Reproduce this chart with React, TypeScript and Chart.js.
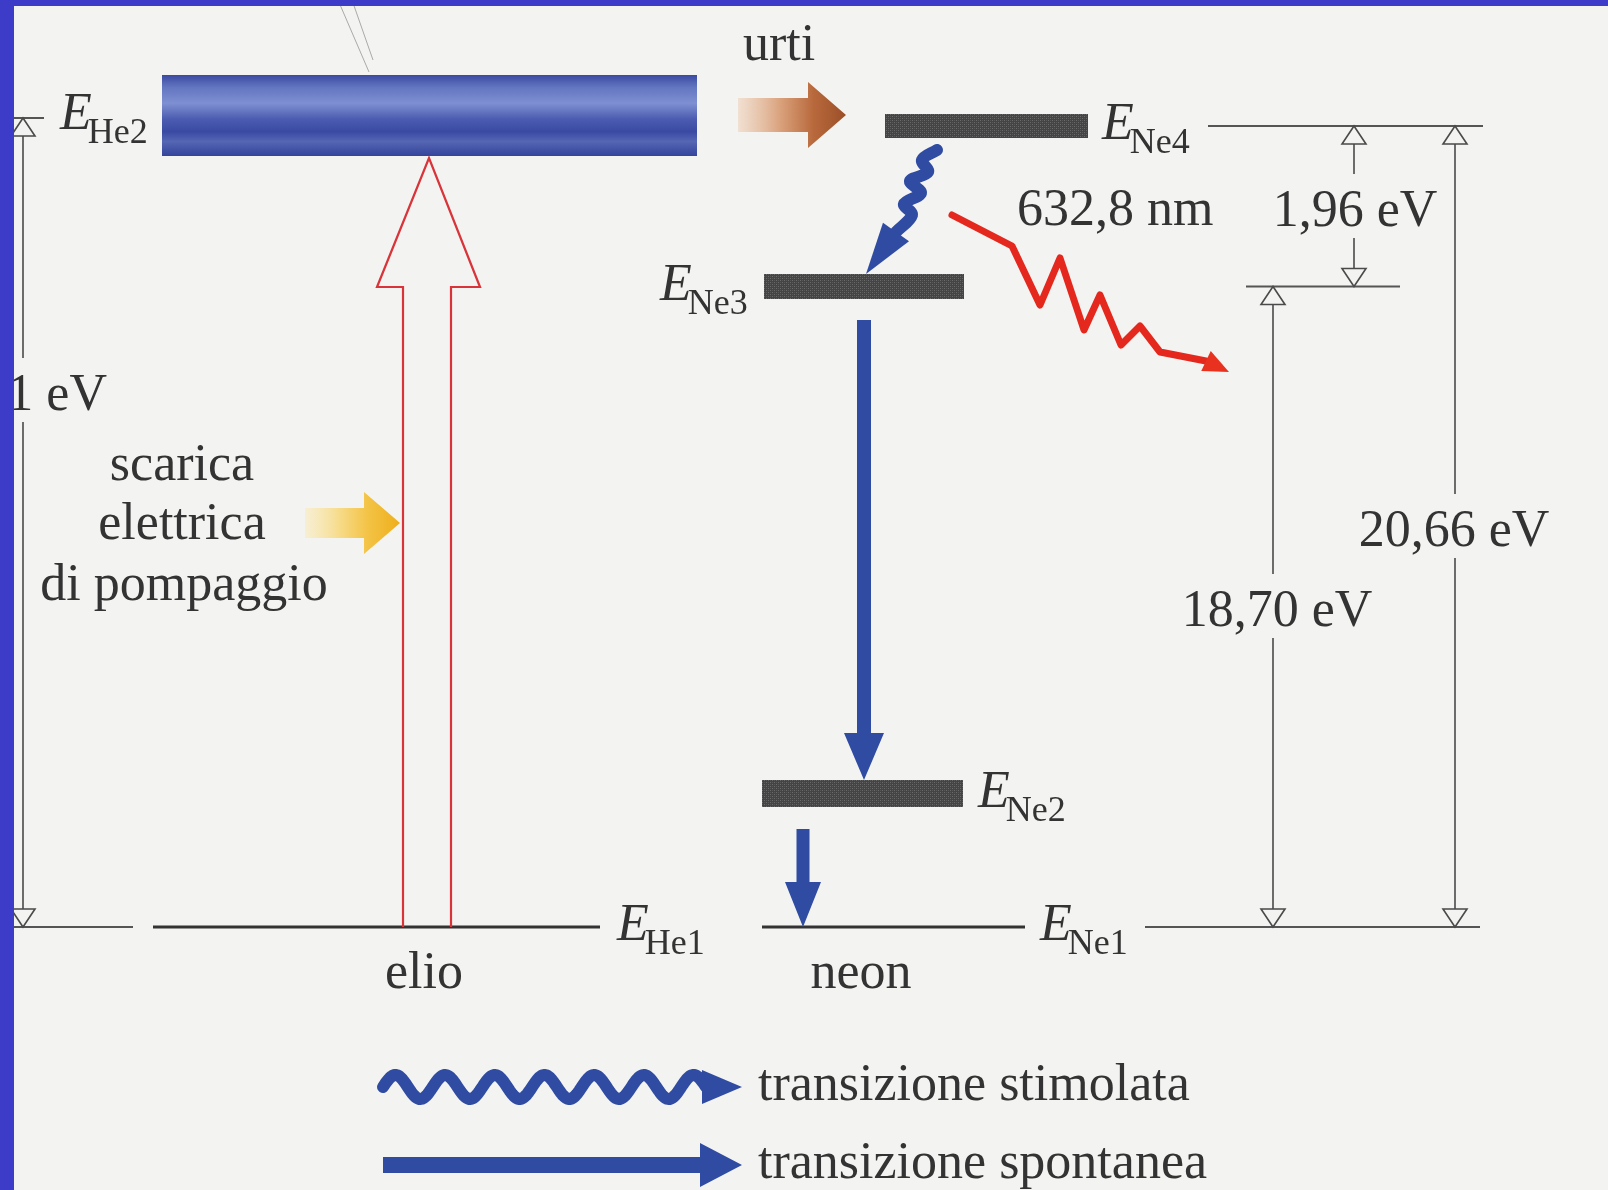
import React, { useEffect, useRef } from 'react';
import { Chart, registerables } from 'chart.js';

Chart.register(...registerables);

// Diagram coordinates: x = horizontal position, y = schematic height above ground level (E_He1 = E_Ne1 = 0)
const levelNames = ['He2', 'Ne4', 'Ne3', 'Ne2', 'He1', 'Ne1'];
const levelHeights = [811.5, 801, 640.5, 133.5, 0, 0];
const levelStarts = [162, 885, 764, 762, 153, 762];
const levelEnds = [697, 1088, 964, 963, 600, 1025];
const levelLabelX = [60, 1102, 660, 978, 617, 1040];

// thin reference lines used by the energy-gap dimensions
const refHeights = [801, 640.5, 0, 809, 0];
const refStarts = [1208, 1246, 1145, 14, 14];
const refEnds = [1483, 1400, 1480, 44, 133];

// energy gaps
const gapLabels = ['1,96 eV', '18,70 eV', '20,66 eV', '20,61 eV'];
const gapX = [1354, 1273, 1455, 23];
const gapTop = [801, 640.5, 801, 809];
const gapBottom = [640.5, 0, 0, 0];
const gapLabelX = [1355, 1277, 1454, 107];
const gapLabelY = [701, 301, 381, 517];
const gapLabelAlign = ['center', 'center', 'center', 'right'];

// captions
const captions = ['urti', '632,8 nm', 'scarica', 'elettrica', 'di pompaggio', 'elio', 'neon'];
const captionX = [779, 1017, 182, 182, 184, 424, 861];
const captionY = [867, 702, 447, 388, 327, -61, -61];
const captionAlign = ['center', 'left', 'center', 'center', 'center', 'center', 'center'];

// spontaneous transitions (Ne3 -> Ne2, Ne2 -> Ne1)
const spontX = [864, 803];
const spontFrom = [607, 98];
const spontTo = [147, 0];

// pumping arrow (He1 -> He2)
const pumpX = 427;
const pumpFrom = 0;
const pumpHeadBase = 640;
const pumpTip = 769;

// discharge and collision arrows
const dischargeY = 404;
const dischargeFrom = 305;
const dischargeTo = 400;
const urtiY = 812;
const urtiFrom = 738;
const urtiTo = 846;

// stimulated transition squiggle Ne4 -> Ne3
const stimX = [937, 922, 928, 910, 921, 904, 912, 896];
const stimY = [777, 767, 755, 746, 734, 723, 712, 695];
const stimTip = [866, 653];

// emitted photon 632,8 nm
const photonX = [952, 1012, 1040, 1060, 1084, 1100, 1121, 1140, 1160, 1206];
const photonY = [712, 681, 622, 669, 597, 632, 582, 601, 575, 566];
const photonTip = [1229, 555];

// legend
const legendLabels = ['transizione stimolata', 'transizione spontanea'];
const legendArrowY = [-160, -238];
const legendTextY = [-173, -251];
const legendStart = 383;
const legendEnd = 742;
const legendTextX = 758;

// scan scratches at top
const scratchX0 = [338, 352];
const scratchY0 = [927, 927];
const scratchX1 = [369, 373];
const scratchY1 = [855, 867];

const levelThickness = [81, 24, 25, 27, 3, 3];
const BLUE = '#2f4ca2';
const TEXT = '#333333';
const FONT = '"Liberation Serif", "Times New Roman", serif';
const BG = '#f3f3f1';

function makeGrayPattern(): CanvasPattern | string {
  const c = document.createElement('canvas');
  c.width = 4;
  c.height = 4;
  const g = c.getContext('2d');
  if (!g) return '#4a4a4a';
  g.fillStyle = '#444444';
  g.fillRect(0, 0, 4, 4);
  g.fillStyle = '#6b6b6b';
  g.fillRect(0, 0, 1, 1);
  g.fillRect(2, 2, 1, 1);
  g.fillStyle = '#585858';
  g.fillRect(2, 0, 1, 1);
  g.fillRect(0, 2, 1, 1);
  const p = g.createPattern(c, 'repeat');
  return p || '#4a4a4a';
}

function blockArrow(ctx: CanvasRenderingContext2D, x0: number, y0: number, x1: number, y1: number, sw: number, hw: number, hl: number) {
  const dx = x1 - x0, dy = y1 - y0;
  const len = Math.hypot(dx, dy);
  const ux = dx / len, uy = dy / len;
  const nx = -uy, ny = ux;
  const bx = x1 - ux * hl, by = y1 - uy * hl;
  ctx.beginPath();
  ctx.moveTo(x0 + nx * sw / 2, y0 + ny * sw / 2);
  ctx.lineTo(bx + nx * sw / 2, by + ny * sw / 2);
  ctx.lineTo(bx + nx * hw / 2, by + ny * hw / 2);
  ctx.lineTo(x1, y1);
  ctx.lineTo(bx - nx * hw / 2, by - ny * hw / 2);
  ctx.lineTo(bx - nx * sw / 2, by - ny * sw / 2);
  ctx.lineTo(x0 - nx * sw / 2, y0 - ny * sw / 2);
  ctx.closePath();
}

function headOnly(ctx: CanvasRenderingContext2D, bx: number, by: number, x1: number, y1: number, hw: number) {
  const dx = x1 - bx, dy = y1 - by;
  const len = Math.hypot(dx, dy);
  const nx = -dy / len, ny = dx / len;
  ctx.beginPath();
  ctx.moveTo(bx + nx * hw / 2, by + ny * hw / 2);
  ctx.lineTo(x1, y1);
  ctx.lineTo(bx - nx * hw / 2, by - ny * hw / 2);
  ctx.closePath();
}

const diagramPlugin = {
  id: 'diagram',
  beforeDraw(chart: any) {
    const { ctx } = chart;
    ctx.save();
    ctx.fillStyle = BG;
    ctx.fillRect(0, 0, chart.width, chart.height);
    ctx.restore();
  },
  afterDatasetsDraw(chart: any) {
    const { ctx } = chart;
    const X = (v: number) => chart.scales.x.getPixelForValue(v);
    const Y = (v: number) => chart.scales.y.getPixelForValue(v);
    ctx.save();

    // scratches
    ctx.strokeStyle = 'rgba(120,120,120,0.6)';
    ctx.lineWidth = 1;
    for (let i = 0; i < scratchX0.length; i++) {
      ctx.beginPath();
      ctx.moveTo(X(scratchX0[i]), Y(scratchY0[i]));
      ctx.lineTo(X(scratchX1[i]), Y(scratchY1[i]));
      ctx.stroke();
    }

    // reference lines
    ctx.strokeStyle = '#555555';
    ctx.lineWidth = 2;
    for (let i = 0; i < refHeights.length; i++) {
      ctx.beginPath();
      ctx.moveTo(X(refStarts[i]), Y(refHeights[i]));
      ctx.lineTo(X(refEnds[i]), Y(refHeights[i]));
      ctx.stroke();
    }

    // dimension lines with open triangles
    ctx.font = `52px ${FONT}`;
    for (let i = 0; i < gapLabels.length; i++) {
      const x = X(gapX[i]);
      const top = Y(gapTop[i]);
      const bot = Y(gapBottom[i]);
      const lb = Y(gapLabelY[i]);
      const gapA = lb - 52, gapB = lb + 12;
      const th = 18, tw = 24;
      ctx.strokeStyle = '#4a4a4a';
      ctx.lineWidth = 1.6;
      ctx.beginPath();
      ctx.moveTo(x, top + th);
      ctx.lineTo(x, gapA);
      ctx.moveTo(x, gapB);
      ctx.lineTo(x, bot - th);
      ctx.stroke();
      ctx.fillStyle = BG;
      ctx.beginPath();
      ctx.moveTo(x, top);
      ctx.lineTo(x - tw / 2, top + th);
      ctx.lineTo(x + tw / 2, top + th);
      ctx.closePath();
      ctx.fill();
      ctx.stroke();
      ctx.beginPath();
      ctx.moveTo(x, bot);
      ctx.lineTo(x - tw / 2, bot - th);
      ctx.lineTo(x + tw / 2, bot - th);
      ctx.closePath();
      ctx.fill();
      ctx.stroke();
      ctx.fillStyle = TEXT;
      ctx.textAlign = gapLabelAlign[i] as CanvasTextAlign;
      ctx.textBaseline = 'alphabetic';
      ctx.fillText(gapLabels[i], X(gapLabelX[i]), lb);
    }

    // pumping hollow arrow
    {
      const cx = X(pumpX);
      const sb = Y(pumpFrom), hb = Y(pumpHeadBase), tip = Y(pumpTip);
      ctx.strokeStyle = '#d8343a';
      ctx.lineWidth = 2.2;
      ctx.lineJoin = 'miter';
      ctx.beginPath();
      ctx.moveTo(cx - 24, sb);
      ctx.lineTo(cx - 24, hb);
      ctx.lineTo(cx - 50, hb);
      ctx.lineTo(cx + 2, tip);
      ctx.lineTo(cx + 53, hb);
      ctx.lineTo(cx + 24, hb);
      ctx.lineTo(cx + 24, sb);
      ctx.stroke();
    }

    // discharge arrow (yellow)
    {
      const y = Y(dischargeY);
      const x0 = X(dischargeFrom), x1 = X(dischargeTo);
      const g = ctx.createLinearGradient(x0, 0, x1, 0);
      g.addColorStop(0, 'rgba(250,236,190,0.6)');
      g.addColorStop(0.35, '#f7dc8c');
      g.addColorStop(0.65, '#f3c447');
      g.addColorStop(1, '#efae1a');
      ctx.fillStyle = g;
      blockArrow(ctx, x0, y, x1, y, 30, 62, 36);
      ctx.fill();
    }

    // collision arrow (brown)
    {
      const y = Y(urtiY);
      const x0 = X(urtiFrom), x1 = X(urtiTo);
      const g = ctx.createLinearGradient(x0, 0, x1, 0);
      g.addColorStop(0, 'rgba(240,215,195,0.7)');
      g.addColorStop(0.4, '#d9a07a');
      g.addColorStop(0.7, '#b8693c');
      g.addColorStop(1, '#9c4f28');
      ctx.fillStyle = g;
      blockArrow(ctx, x0, y, x1, y, 34, 66, 38);
      ctx.fill();
    }

    // spontaneous transitions
    ctx.fillStyle = BLUE;
    const spW = [14, 13], spH = [40, 36], spL = [47, 45];
    for (let i = 0; i < spontX.length; i++) {
      blockArrow(ctx, X(spontX[i]), Y(spontFrom[i]), X(spontX[i]), Y(spontTo[i]), spW[i], spH[i], spL[i]);
      ctx.fill();
    }

    // stimulated squiggle head
    {
      const n = stimX.length - 1;
      ctx.fillStyle = BLUE;
      headOnly(ctx, X(stimX[n]), Y(stimY[n]), X(stimTip[0]), Y(stimTip[1]), 32);
      ctx.fill();
    }

    // photon head
    {
      const n = photonX.length - 1;
      ctx.fillStyle = '#e8321f';
      headOnly(ctx, X(photonX[n]), Y(photonY[n]), X(photonTip[0]), Y(photonTip[1]), 22);
      ctx.fill();
    }

    // level labels
    ctx.textAlign = 'left';
    for (let i = 0; i < levelNames.length; i++) {
      const x = X(levelLabelX[i]);
      const by = Y(levelHeights[i] - 13);
      ctx.fillStyle = TEXT;
      ctx.font = `italic 52px ${FONT}`;
      ctx.fillText('E', x, by);
      const w = ctx.measureText('E').width;
      ctx.font = `36px ${FONT}`;
      ctx.fillText(levelNames[i], x + w - 4, by + 14);
    }

    // captions
    ctx.font = `52px ${FONT}`;
    ctx.fillStyle = TEXT;
    for (let i = 0; i < captions.length; i++) {
      ctx.textAlign = captionAlign[i] as CanvasTextAlign;
      ctx.fillText(captions[i], X(captionX[i]), Y(captionY[i]));
    }

    // legend
    {
      const xs = X(legendStart), xe = X(legendEnd);
      const yc = Y(legendArrowY[0]);
      const headL = 40;
      const wx1 = xe - headL + 4;
      ctx.strokeStyle = BLUE;
      ctx.lineWidth = 12;
      ctx.lineCap = 'round';
      ctx.lineJoin = 'round';
      ctx.beginPath();
      const steps = 240;
      for (let k = 0; k <= steps; k++) {
        const t = k / steps;
        const x = xs + t * (wx1 - xs);
        const y = yc - 12 * Math.sin(2 * Math.PI * 6.5 * t);
        if (k === 0) ctx.moveTo(x, y); else ctx.lineTo(x, y);
      }
      ctx.stroke();
      ctx.fillStyle = BLUE;
      headOnly(ctx, xe - headL, yc, xe, yc, 34);
      ctx.fill();
      const ys = Y(legendArrowY[1]);
      blockArrow(ctx, xs, ys, xe, ys, 16, 44, 42);
      ctx.fill();
      ctx.fillStyle = TEXT;
      ctx.textAlign = 'left';
      ctx.font = `52px ${FONT}`;
      for (let i = 0; i < legendLabels.length; i++) {
        ctx.fillText(legendLabels[i], X(legendTextX), Y(legendTextY[i]));
      }
    }
    ctx.restore();
  },
  afterDraw(chart: any) {
    const { ctx } = chart;
    ctx.save();
    ctx.fillStyle = '#3c3cc9';
    ctx.fillRect(0, 0, 14, chart.height);
    ctx.fillRect(0, 0, chart.width, 6);
    ctx.restore();
  },
};

export default function App() {
  const ref = useRef<HTMLCanvasElement | null>(null);
  useEffect(() => {
    if (!ref.current) return;
    const gray = makeGrayPattern();
    const datasets: any[] = [];
    for (let i = 0; i < levelNames.length; i++) {
      const h = levelHeights[i];
      const th = levelThickness[i];
      let color: any = th > 5 ? gray : '#333333';
      if (i === 0) {
        color = (c: any) => {
          const chart = c.chart;
          const sc = chart.scales && chart.scales.y;
          const area = chart.chartArea;
          if (!sc || !area) return '#4556aa';
          const py = sc.getPixelForValue(h);
          if (!Number.isFinite(py)) return '#4556aa';
          const g = chart.ctx.createLinearGradient(0, py - th / 2, 0, py + th / 2);
          g.addColorStop(0, '#3a4aa2');
          g.addColorStop(0.15, '#6275c0');
          g.addColorStop(0.35, '#7f8fd2');
          g.addColorStop(0.55, '#4a5bb0');
          g.addColorStop(0.7, '#3a4aa3');
          g.addColorStop(0.82, '#5566b4');
          g.addColorStop(1, '#33449b');
          return g;
        };
      }
      datasets.push({
        label: 'E' + levelNames[i],
        data: [
          { x: levelStarts[i], y: h },
          { x: levelEnds[i], y: h },
        ],
        showLine: true,
        borderColor: color,
        borderWidth: th,
        borderCapStyle: 'butt',
        pointRadius: 0,
        pointHoverRadius: 0,
      });
    }
    datasets.push({
      label: 'stimolata',
      data: stimX.map((x, i) => ({ x, y: stimY[i] })),
      showLine: true,
      borderColor: BLUE,
      borderWidth: 12,
      tension: 0.35,
      borderCapStyle: 'round',
      borderJoinStyle: 'round',
      pointRadius: 0,
    });
    datasets.push({
      label: 'fotone',
      data: photonX.map((x, i) => ({ x, y: photonY[i] })),
      showLine: true,
      borderColor: '#e5281d',
      borderWidth: 7,
      borderJoinStyle: 'round',
      borderCapStyle: 'round',
      pointRadius: 0,
    });
    datasets.push({
      label: 'fotone-core',
      data: photonX.map((x, i) => ({ x, y: photonY[i] })),
      showLine: true,
      borderColor: '#f8a83a',
      borderWidth: 2.5,
      borderJoinStyle: 'round',
      borderCapStyle: 'round',
      pointRadius: 0,
    });

    const chart = new Chart(ref.current, {
      type: 'scatter',
      data: { datasets },
      options: {
        animation: false,
        responsive: false,
        events: [],
        layout: { padding: 0 },
        plugins: { legend: { display: false }, tooltip: { enabled: false } },
        scales: {
          x: { type: 'linear', min: 0, max: 1608, display: false },
          y: { type: 'linear', min: -263, max: 927, display: false },
        },
      },
      plugins: [diagramPlugin],
    } as any);
    return () => chart.destroy();
  }, []);
  return (
    <div style={{ position: 'fixed', left: 0, top: 0, width: 1608, height: 1190 }}>
      <canvas ref={ref} width={1608} height={1190} />
    </div>
  );
}
